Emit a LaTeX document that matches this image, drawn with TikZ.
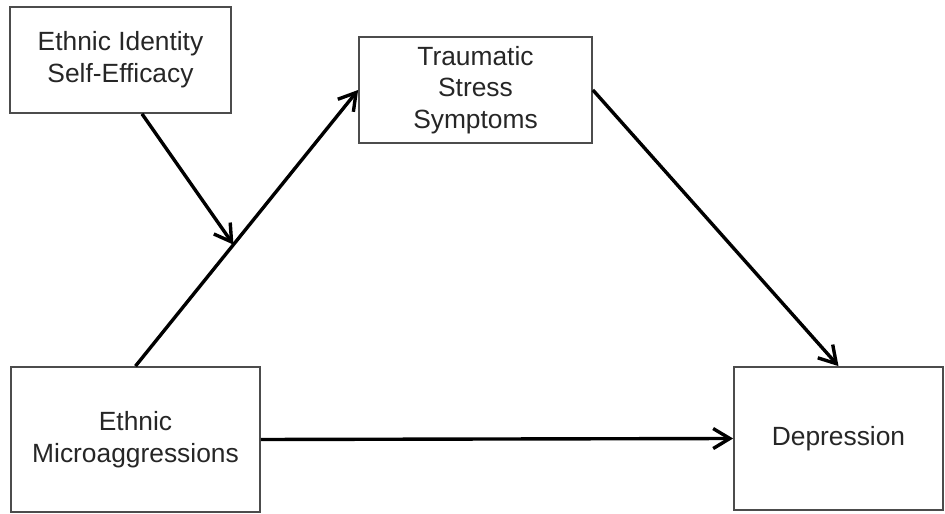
\documentclass[tikz,border=0pt]{standalone}
\usepackage{fontspec}
\setmainfont{Liberation Sans}
\usetikzlibrary{arrows.meta,calc}

\begin{document}
\begin{tikzpicture}[x=0.03cm,y=-0.03cm]
\tikzstyle{every node}+=[inner sep=0pt]
\tikzstyle{box}=[draw=black!70, line width=1.5pt, fill=white, align=center, text=black!85, font=\fontsize{22.5}{27}\selectfont]
\tikzstyle{link}=[black, line width=2.9pt, -{Straight Barb[length=5mm,width=6mm]}]
\useasboundingbox [fill=white] (0,0) rectangle (945,514);
\node [box, minimum width=6.63cm, minimum height=3.18cm] (eis) at (120.5,60) {Ethnic Identity\\Self-Efficacy};
\node [box, minimum width=6.99cm, minimum height=3.18cm] (tss) at (475.5,90) {Traumatic\\Stress\\Symptoms};
\node [box, minimum width=7.47cm, minimum height=4.35cm] (em) at (135.5,439.5) {Ethnic\\Microaggressions};
\node [box, minimum width=6.27cm, minimum height=4.29cm] (dep) at (838.5,438.5) {Depression};
\coordinate (mod) at ($(em.north)!0.44!(tss.west)$);
\draw [link] (em.north) -- (tss.west);
\draw [link] ($(eis.south)+(21.5,0)$) -- (mod);
\draw [link] (tss.east) -- (dep.north);
\draw [link] (em.east) -- (dep.west);
\end{tikzpicture}
\end{document}
